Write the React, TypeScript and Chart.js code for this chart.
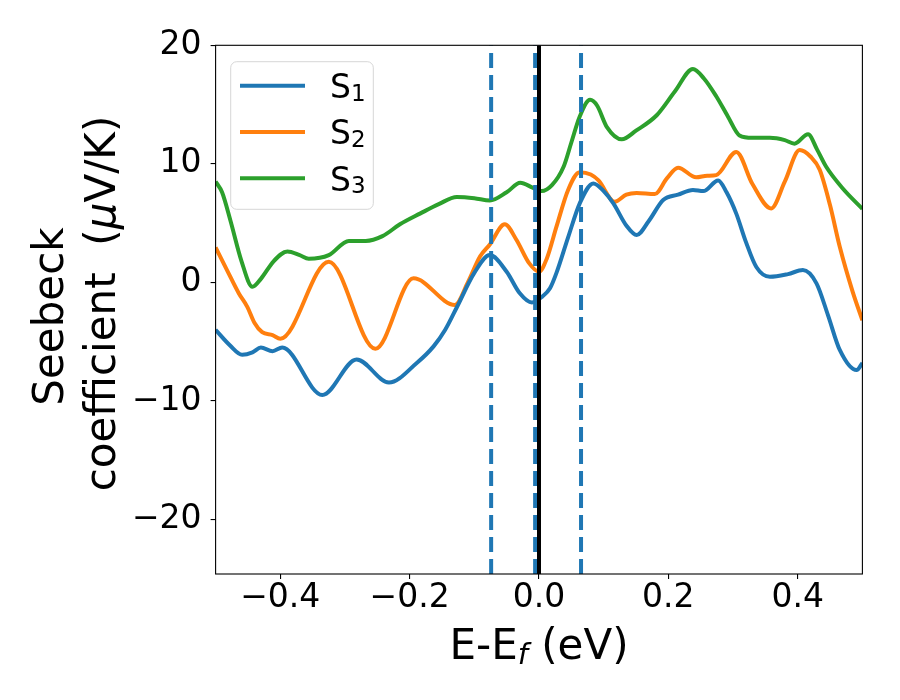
import { useEffect, useRef } from 'react'
import { Chart, ChartConfiguration, Plugin, registerables } from 'chart.js'

Chart.register(...registerables)

// energies (eV, relative to E_f) and Seebeck values (uV/K)
const energyS1 = [-0.5, -0.478, -0.459, -0.443, -0.43, -0.412, -0.397, -0.335, -0.282, -0.232, -0.189, -0.163, -0.145, -0.127, -0.1, -0.076, -0.05, -0.03, -0.011, 0.005, 0.017, 0.027, 0.045, 0.063, 0.084, 0.1, 0.115, 0.135, 0.151, 0.17, 0.192, 0.215, 0.238, 0.254, 0.277, 0.29, 0.305, 0.32, 0.336, 0.357, 0.385, 0.408, 0.429, 0.447, 0.465, 0.491, 0.5]
const valuesS1 = [-4.0, -5.3, -6.1, -5.9, -5.5, -5.8, -5.5, -9.5, -6.5, -8.45, -6.8, -5.4, -4.0, -2.1, 0.8, 2.3, 0.9, -0.9, -1.7, -1.2, -0.5, 0.8, 3.8, 6.67, 8.35, 7.7, 6.67, 4.8, 4.0, 5.2, 6.95, 7.4, 7.8, 7.7, 8.6, 7.6, 5.8, 3.4, 1.3, 0.47, 0.7, 1.04, -0.08, -2.8, -5.7, -7.4, -6.8]

const energyS2 = [-0.5, -0.482, -0.464, -0.451, -0.44, -0.428, -0.412, -0.4, -0.325, -0.253, -0.194, -0.13, -0.11, -0.091, -0.076, -0.053, -0.035, -0.015, 0.0, 0.012, 0.027, 0.045, 0.063, 0.08, 0.092, 0.117, 0.135, 0.151, 0.179, 0.198, 0.215, 0.243, 0.26, 0.274, 0.305, 0.33, 0.359, 0.38, 0.403, 0.42, 0.434, 0.45, 0.465, 0.485, 0.5]
const valuesS2 = [2.95, 1.0, -0.93, -2.06, -3.4, -4.2, -4.45, -4.75, 1.74, -5.6, 0.34, -1.9, 0.0, 2.2, 3.2, 4.9, 3.6, 1.6, 0.9, 2.0, 4.7, 7.8, 9.3, 9.1, 8.6, 6.8, 7.4, 7.55, 7.45, 8.8, 9.67, 8.86, 9.0, 9.05, 11.0, 8.3, 6.24, 8.5, 11.16, 10.6, 9.5, 6.5, 3.0, -0.8, -3.2]

const energyS3 = [-0.5, -0.49, -0.477, -0.46, -0.443, -0.43, -0.41, -0.389, -0.37, -0.356, -0.325, -0.294, -0.268, -0.242, -0.215, -0.184, -0.155, -0.127, -0.1, -0.076, -0.05, -0.029, -0.01, 0.004, 0.02, 0.038, 0.05, 0.063, 0.079, 0.09, 0.105, 0.128, 0.15, 0.182, 0.21, 0.238, 0.255, 0.274, 0.292, 0.31, 0.33, 0.357, 0.38, 0.395, 0.416, 0.43, 0.444, 0.47, 0.5]
const valuesS3 = [8.5, 7.6, 5.2, 1.8, -0.37, 0.3, 1.8, 2.6, 2.3, 2.0, 2.3, 3.5, 3.5, 3.9, 4.9, 5.8, 6.6, 7.2, 7.1, 6.9, 7.6, 8.4, 8.0, 7.7, 8.2, 9.75, 11.8, 14.0, 15.4, 14.9, 13.1, 12.07, 12.8, 14.1, 16.1, 18.0, 17.2, 15.7, 14.0, 12.4, 12.2, 12.2, 12.0, 11.7, 12.5, 11.2, 9.75, 7.9, 6.2]

const seriesLabels = ['S_1', 'S_2', 'S_3']
const seriesColors = ['#1f77b4', '#ff7f0e', '#2ca02c']

const markerEnergies = [-0.074, -0.006, 0.065]
const fermiEnergy = 0

const xRange = [-0.5, 0.5]
const yRange = [-24.6, 20]
const xTicks = [-0.4, -0.2, 0, 0.2, 0.4]
const yTicks = [-20, -10, 0, 10, 20]

const FONT = 'DejaVu Sans'

type Run = { text: string; font: string; dy?: number }

function drawRuns(ctx: CanvasRenderingContext2D, runs: Run[], cx: number, baseline: number) {
  let total = 0
  const widths = runs.map(r => {
    ctx.font = r.font
    const w = ctx.measureText(r.text).width
    total += w
    return w
  })
  let x = cx - total / 2
  runs.forEach((r, i) => {
    ctx.font = r.font
    ctx.fillText(r.text, x, baseline + (r.dy || 0))
    x += widths[i]
  })
}

const decorations: Plugin = {
  id: 'decorations',
  afterDatasetsDraw(chart) {
    const { ctx, chartArea } = chart
    ctx.save()
    // spines
    ctx.strokeStyle = '#000'
    ctx.lineWidth = 1.1
    ctx.strokeRect(chartArea.left, chartArea.top, chartArea.right - chartArea.left, chartArea.bottom - chartArea.top)

    ctx.fillStyle = '#000'
    ctx.textAlign = 'left'
    ctx.textBaseline = 'alphabetic'

    // x axis title
    const cx = (chartArea.left + chartArea.right) / 2
    drawRuns(ctx, [
      { text: 'E-E', font: `42px "${FONT}"` },
      { text: 'f', font: `italic 29px "${FONT}"`, dy: 5 },
      { text: ' (eV)', font: `42px "${FONT}"` },
    ], cx, 659)

    // y axis title, two rotated lines
    ctx.save()
    ctx.translate(63, 316.5)
    ctx.rotate(-Math.PI / 2)
    drawRuns(ctx, [{ text: 'Seebeck', font: `42px "${FONT}"` }], 0, 0)
    ctx.restore()
    ctx.save()
    ctx.translate(115, 303.5)
    ctx.rotate(-Math.PI / 2)
    drawRuns(ctx, [
      { text: 'coefficient  (', font: `42px "${FONT}"` },
      { text: 'μ', font: `italic 42px "${FONT}"` },
      { text: 'V/K)', font: `42px "${FONT}"` },
    ], 0, 0)
    ctx.restore()

    // legend
    const lx = 230.7, ly = 61.7, lw = 142.6, lh = 147.6
    ctx.beginPath()
    ctx.roundRect(lx, ly, lw, lh, 6)
    ctx.fillStyle = 'rgba(255,255,255,0.8)'
    ctx.fill()
    ctx.strokeStyle = 'rgba(204,204,204,0.8)'
    ctx.lineWidth = 1
    ctx.stroke()
    seriesLabels.forEach((label, i) => {
      const y = 85.7 + i * 46.3
      ctx.beginPath()
      ctx.moveTo(240, y)
      ctx.lineTo(305, y)
      ctx.strokeStyle = seriesColors[i]
      ctx.lineWidth = 4
      ctx.stroke()
      const [base, sub] = label.split('_')
      ctx.fillStyle = '#000'
      ctx.font = `33px "${FONT}"`
      ctx.fillText(base, 330, y + 12.4)
      const w = ctx.measureText(base).width
      ctx.font = `23px "${FONT}"`
      ctx.fillText(sub, 330 + w, y + 15)
    })
    ctx.restore()
  },
}

const minus = (s: string) => s.replace('-', '\u2212')

export default function App() {
  const canvasRef = useRef<HTMLCanvasElement>(null)
  const chartRef = useRef<Chart | null>(null)

  useEffect(() => {
    if (!canvasRef.current) return
    if (chartRef.current) chartRef.current.destroy()

    const series = [
      { xs: energyS1, ys: valuesS1 },
      { xs: energyS2, ys: valuesS2 },
      { xs: energyS3, ys: valuesS3 },
    ]

    const curveSets = series.map((s, i) => ({
      label: seriesLabels[i],
      data: s.xs.map((x, j) => ({ x, y: s.ys[j] })),
      borderColor: seriesColors[i],
      borderWidth: 4,
      pointRadius: 0,
      cubicInterpolationMode: 'monotone' as const,
      fill: false,
      clip: 0,
      order: 3,
    }))

    const markerSets = markerEnergies.map(e => ({
      label: 'marker',
      data: [{ x: e, y: yRange[0] }, { x: e, y: yRange[1] }],
      borderColor: '#1f77b4',
      borderWidth: 4,
      borderDash: [15, 7],
      pointRadius: 0,
      fill: false,
      clip: 0,
      order: 2,
    }))

    const fermiSet = {
      label: 'Ef',
      data: [{ x: fermiEnergy, y: yRange[0] }, { x: fermiEnergy, y: yRange[1] }],
      borderColor: '#000000',
      borderWidth: 4,
      pointRadius: 0,
      fill: false,
      clip: 0,
      order: 1,
    }

    const config: ChartConfiguration = {
      type: 'line',
      data: { datasets: [...curveSets, ...markerSets, fermiSet] as any },
      options: {
        animation: false,
        responsive: true,
        maintainAspectRatio: false,
        devicePixelRatio: 1,
        layout: { padding: { left: 0, right: 37.6, top: 45.3, bottom: 0 } },
        plugins: {
          legend: { display: false },
          tooltip: { enabled: false },
        },
        scales: {
          x: {
            type: 'linear',
            min: xRange[0],
            max: xRange[1],
            afterBuildTicks: (s: any) => { s.ticks = xTicks.map(v => ({ value: v })) },
            afterFit: (s: any) => { s.height = 126 },
            grid: { drawOnChartArea: false, drawTicks: true, tickLength: 5, color: '#000', lineWidth: 1.1 },
            border: { display: false },
            ticks: {
              color: '#000',
              padding: 0,
              font: { family: FONT, size: 33 },
              maxRotation: 0,
              callback: (v: any) => minus(Number(v).toFixed(1)),
            },
          },
          y: {
            type: 'linear',
            min: yRange[0],
            max: yRange[1],
            afterBuildTicks: (s: any) => { s.ticks = yTicks.map(v => ({ value: v })) },
            afterFit: (s: any) => { s.width = 215.6 },
            grid: { drawOnChartArea: false, drawTicks: true, tickLength: 5, color: '#000', lineWidth: 1.1 },
            border: { display: false },
            ticks: {
              color: '#000',
              padding: 9,
              font: { family: FONT, size: 33 },
              callback: (v: any) => minus(String(v)),
            },
          },
        },
      },
      plugins: [decorations],
    }

    chartRef.current = new Chart(canvasRef.current, config)

    return () => {
      if (chartRef.current) {
        chartRef.current.destroy()
        chartRef.current = null
      }
    }
  }, [])

  return (
    <div style={{ position: 'fixed', left: 0, top: 0, width: 900, height: 700, background: '#fff' }}>
      <canvas ref={canvasRef} />
    </div>
  )
}
